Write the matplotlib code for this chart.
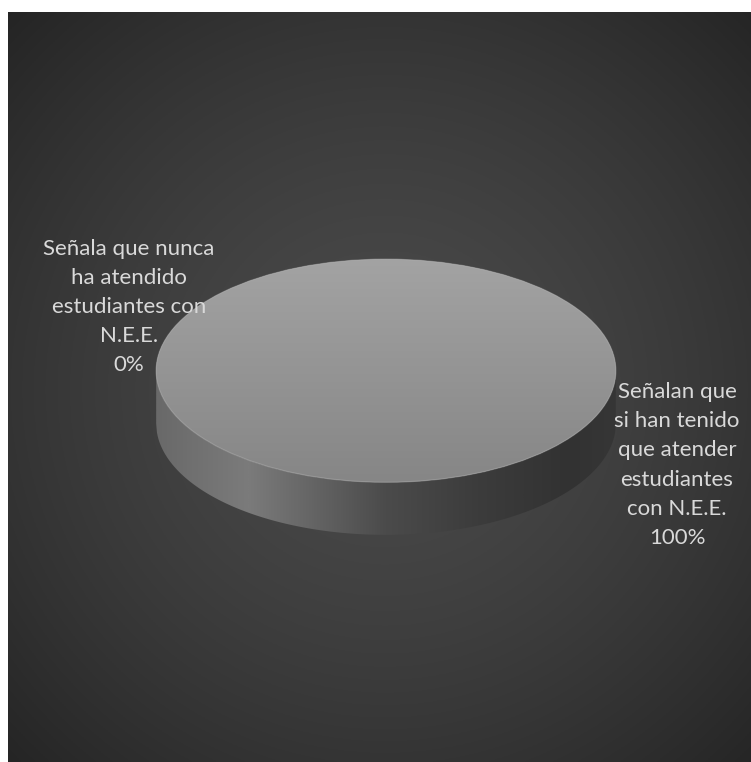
import numpy as np
import matplotlib
matplotlib.use("Agg")
import matplotlib.pyplot as plt
from matplotlib.patches import Polygon, Ellipse
from matplotlib.colors import LinearSegmentedColormap

# Survey answers (share of respondents)
categories = [
    "Señala que nunca\nha atendido\nestudiantes con\nN.E.E.",
    "Señalan que\nsi han tenido\nque atender\nestudiantes\ncon N.E.E.",
]
values = [0, 100]

W, H = 751, 762
fig = plt.figure(figsize=(W / 100, H / 100), dpi=100, facecolor="white")

# Canvas in pixel coordinates for the backdrop
ax = fig.add_axes([0, 0, 1, 1])
ax.set_xlim(0, W)
ax.set_ylim(H, 0)
ax.axis("off")

# Radial backdrop: lighter in the middle, darker towards the corners
bx0, by0, bx1, by1 = 8, 12, W, H
gx = np.linspace(bx0, bx1, 400)
gy = np.linspace(by0, by1, 400)
GX, GY = np.meshgrid(gx, gy)
r = np.hypot(GX - 385, GY - 390) / 540.0
lum = 74 - 38 * np.clip(r, 0, 1) ** 1.5
bg = np.dstack([lum, lum, lum]) / 255.0
ax.imshow(bg, extent=(bx0, bx1, by1, by0), origin="upper", zorder=0, aspect="auto")

# Pie geometry (pixels)
cx, cy = 386, 370.5
a, b = 231, 112.5
depth = 53
d = depth / b

pax = fig.add_axes([(cx - a) / W, 1 - (cy + b + depth) / H,
                    2 * a / W, (2 * b + depth) / H])
pax.patch.set_alpha(0)

# Side wall of the cylinder with a horizontal shading
xs = np.linspace(-1, 1, 600)
upper = -np.sqrt(np.clip(1 - xs ** 2, 0, 1))
lower = upper - d
side_pts = np.concatenate([np.column_stack([xs, upper]),
                           np.column_stack([xs[::-1], lower[::-1]])])
side = Polygon(side_pts, closed=True, facecolor="none", edgecolor="none")
pax.add_patch(side)
side_cmap = LinearSegmentedColormap.from_list(
    "side",
    [(0.0, "#696969"), (0.2, "#7b7b7b"), (0.5, "#4b4b4b"),
     (0.7, "#3c3c3c"), (0.9, "#323232"), (1.0, "#363636")])
side_grad = np.tile(np.linspace(0, 1, 512), (2, 1))
im = pax.imshow(side_grad, cmap=side_cmap, extent=(-1, 1, -1 - d, 0),
                aspect="auto", zorder=1, interpolation="bilinear")
im.set_clip_path(side)

# Top face drawn as a pie chart
wedges, _ = pax.pie(values, colors=["#8f8f8f", "#959595"], startangle=90,
                    counterclock=False, radius=1,
                    wedgeprops=dict(linewidth=0, zorder=2))
for w in wedges:
    w.set_zorder(2)

top_cmap = LinearSegmentedColormap.from_list("top", ["#a3a3a3", "#868686"])
top_grad = np.linspace(0, 1, 512).reshape(-1, 1)
for w in wedges:
    tim = pax.imshow(top_grad, cmap=top_cmap, extent=(-1, 1, -1, 1),
                     aspect="auto", zorder=3, interpolation="bilinear",
                     origin="upper")
    tim.set_clip_path(w)

rim = Ellipse((0, 0), 2, 2, facecolor="none", edgecolor="#b5b5b5",
              linewidth=0.9, alpha=0.4, zorder=4)
pax.add_patch(rim)

pax.set_aspect("auto")
pax.set_xlim(-1.005, 1.005)
pax.set_ylim(-1 - d - 0.01, 1.01)
pax.axis("off")

# Data labels on a transparent overlay so they sit above the pie
lax = fig.add_axes([0, 0, 1, 1])
lax.set_xlim(0, W)
lax.set_ylim(H, 0)
lax.patch.set_alpha(0)
lax.axis("off")

total = sum(values)
label_pos = [(129, 307), (677, 465)]
for text, v, (lx, ly) in zip(categories, values, label_pos):
    lax.text(lx, ly, f"{text}\n{v / total:.0%}", ha="center", va="center",
             color="#d9d9d9", fontsize=16, family=["Lato", "DejaVu Sans"],
             linespacing=1.57, zorder=5)

fig.savefig("out.png", dpi=100, facecolor="white")
